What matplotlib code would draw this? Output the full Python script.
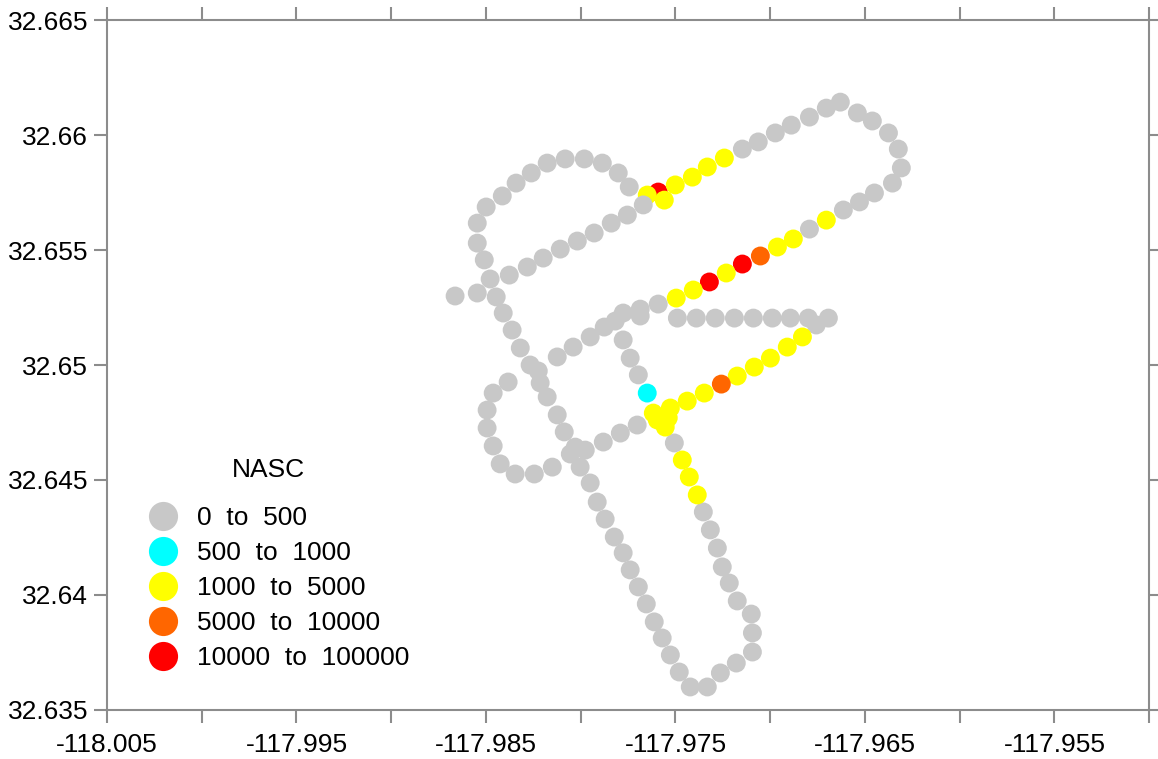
import matplotlib
matplotlib.use("Agg")
from matplotlib import pyplot as plt
from matplotlib.lines import Line2D

plt.rcParams['font.family'] = ['Liberation Sans', 'DejaVu Sans']

# NASC classes
bin_labels = ["0  to  500", "500  to  1000", "1000  to  5000", "5000  to  10000", "10000  to  100000"]
bin_colors = ["#c8c8c8", "#00ffff", "#ffff00", "#ff6600", "#ff0000"]

# track points (lon, lat, class index)
lon = [
    -117.98663, -117.98546, -117.98478, -117.98446, -117.98509, -117.98546, -117.98546, -117.98499,
    -117.98414, -117.98341, -117.98261, -117.98177, -117.98082, -117.97981, -117.97886, -117.97802,
    -117.97744, -117.97591, -117.97649, -117.97559, -117.97501, -117.97411, -117.97332, -117.97242,
    -117.97147, -117.97063, -117.96973, -117.96889, -117.96793, -117.96704, -117.96630, -117.96540,
    -117.96461, -117.96376, -117.96324, -117.96308, -117.96355, -117.96450, -117.96529, -117.96614,
    -117.96704, -117.96793, -117.96878, -117.96962, -117.97052, -117.97147, -117.97232, -117.97321,
    -117.97406, -117.97496,
    # diagonal from the west loop
    -117.98377, -117.98282, -117.98198, -117.98108, -117.98018, -117.97929, -117.97839, -117.97754,
    -117.97670,
    # column going south
    -117.98409, -117.98362, -117.98319, -117.98267, -117.98224, -117.98214, -117.98177, -117.98124,
    -117.98087, -117.98029, -117.98055, -117.97976, -117.98003, -117.97950, -117.97913, -117.97871,
    -117.97823, -117.97776, -117.97739, -117.97696, -117.97654, -117.97612, -117.97570, -117.97527,
    -117.97480, -117.97422, -117.97332, -117.97263, -117.97179, -117.97094, -117.97094, -117.97100,
    -117.97174, -117.97216, -117.97253, -117.97279, -117.97316, -117.97353, -117.97385, -117.97427,
    -117.97464, -117.97506,
    # cluster around the junction
    -117.97617, -117.97527, -117.97554, -117.97596, -117.97538, -117.97649, -117.97696, -117.97739,
    -117.97776,
    # small loop
    -117.98383, -117.98462, -117.98494, -117.98494, -117.98462, -117.98425, -117.98346, -117.98245,
    -117.98150,
    # line to the north-east
    -117.98124, -117.98040, -117.97950, -117.97876, -117.97818, -117.97776, -117.97686, -117.97591,
    # east-west line
    -117.97686, -117.97490, -117.97390, -117.97290, -117.97189, -117.97089, -117.96989, -117.96894,
    -117.96799, -117.96693, -117.96757,
    # lower leg
    -117.96830, -117.96910, -117.96999, -117.97084, -117.97174, -117.97258, -117.97348, -117.97438,
    -117.97881, -117.97791, -117.97702,
]
lat = [
    32.65300, 32.65313, 32.65374, 32.65296, 32.65457, 32.65530, 32.65617, 32.65687,
    32.65735, 32.65791, 32.65835, 32.65878, 32.65896, 32.65896, 32.65878, 32.65835,
    32.65774, 32.65752, 32.65739, 32.65717, 32.65783, 32.65817, 32.65861, 32.65900,
    32.65939, 32.65970, 32.66009, 32.66043, 32.66078, 32.66117, 32.66143, 32.66096,
    32.66061, 32.66009, 32.65939, 32.65857, 32.65791, 32.65748, 32.65709, 32.65674,
    32.65630, 32.65591, 32.65548, 32.65513, 32.65474, 32.65439, 32.65400, 32.65361,
    32.65326, 32.65291,
    32.65391, 32.65426, 32.65465, 32.65504, 32.65539, 32.65574, 32.65617, 32.65652,
    32.65696,
    32.65226, 32.65152, 32.65074, 32.65000, 32.64974, 32.64922, 32.64861, 32.64783,
    32.64709, 32.64643, 32.64613, 32.64630, 32.64556, 32.64487, 32.64404, 32.64330,
    32.64252, 32.64183, 32.64109, 32.64035, 32.63961, 32.63883, 32.63813, 32.63739,
    32.63665, 32.63600, 32.63600, 32.63661, 32.63704, 32.63752, 32.63835, 32.63917,
    32.63974, 32.64052, 32.64122, 32.64204, 32.64283, 32.64361, 32.64435, 32.64513,
    32.64587, 32.64661,
    32.64791, 32.64813, 32.64730, 32.64761, 32.64770, 32.64878, 32.64957, 32.65030,
    32.65109,
    32.64926, 32.64878, 32.64804, 32.64726, 32.64648, 32.64570, 32.64526, 32.64526,
    32.64556,
    32.65035, 32.65078, 32.65122, 32.65165, 32.65191, 32.65226, 32.65243, 32.65265,
    32.65213, 32.65204, 32.65204, 32.65204, 32.65204, 32.65204, 32.65204, 32.65204,
    32.65204, 32.65204, 32.65174,
    32.65122, 32.65078, 32.65030, 32.64991, 32.64952, 32.64917, 32.64878, 32.64843,
    32.64665, 32.64704, 32.64739,
]
nasc_class = [
    0, 0, 0, 0, 0, 0, 0, 0, 0, 0, 0, 0, 0, 0, 0, 0,
    0, 4, 2, 2, 2, 2, 2, 2, 0, 0, 0, 0, 0, 0, 0, 0,
    0, 0, 0, 0, 0, 0, 0, 0, 2, 0, 2, 2, 3, 4, 2, 4,
    2, 2,
    0, 0, 0, 0, 0, 0, 0, 0, 0,
    0, 0, 0, 0, 0, 0, 0, 0, 0, 0, 0, 0, 0, 0, 0, 0,
    0, 0, 0, 0, 0, 0, 0, 0, 0, 0, 0, 0, 0, 0, 0, 0,
    0, 0, 0, 0, 0, 0, 2, 2, 2, 0,
    2, 2, 2, 2, 2, 1, 0, 0, 0,
    0, 0, 0, 0, 0, 0, 0, 0, 0,
    0, 0, 0, 0, 0, 0, 0, 0,
    0, 0, 0, 0, 0, 0, 0, 0, 0, 0, 0,
    2, 2, 2, 2, 2, 3, 2, 2,
    0, 0, 0,
]

x_ticks = [-118.005, -118.0, -117.995, -117.99, -117.985, -117.98, -117.975, -117.97,
           -117.965, -117.96, -117.955, -117.95]
x_labels = ["-118.005", "", "-117.995", "", "-117.985", "", "-117.975", "",
            "-117.965", "", "-117.955", ""]
y_ticks = [32.635, 32.64, 32.645, 32.65, 32.655, 32.66, 32.665]
y_labels = ["32.635", "32.64", "32.645", "32.65", "32.655", "32.66", "32.665"]

fig = plt.figure(figsize=(11.58, 7.59), dpi=100)
ax = fig.add_axes([0.0924, 0.0646, 0.9, 0.909])

colors = [bin_colors[c] for c in nasc_class]
ax.scatter(lon, lat, s=185, c=colors, linewidths=0, zorder=3)

ax.set_xlim(-118.005, -117.95)
ax.set_ylim(32.635, 32.665)
ax.set_xticks(x_ticks)
ax.set_xticklabels(x_labels)
ax.set_yticks(y_ticks)
ax.set_yticklabels(y_labels)

for s in ax.spines.values():
    s.set_color("#8c8c8c")
    s.set_linewidth(1.5)
ax.tick_params(direction="out", length=9.5, width=1.5, color="#8c8c8c",
               labelsize=19, top=True, right=True, pad=4)
ax.tick_params(axis="x", pad=7)

# legend, title placed by hand so the gap matches
handles = [Line2D([], [], marker="o", linestyle="", markersize=21,
                  markerfacecolor=col, markeredgewidth=0) for col in bin_colors]
leg = ax.legend(handles, bin_labels, loc="upper left",
                bbox_to_anchor=(0.120, 0.3474), bbox_transform=fig.transFigure,
                frameon=False, fontsize=19,
                handlelength=1.0, handletextpad=0.8, labelspacing=0.42,
                borderaxespad=0)
fig.text(268 / 1158, 1 - 470 / 759, "NASC", fontsize=19, ha="center", va="center")

fig.savefig("out.png", dpi=100)
